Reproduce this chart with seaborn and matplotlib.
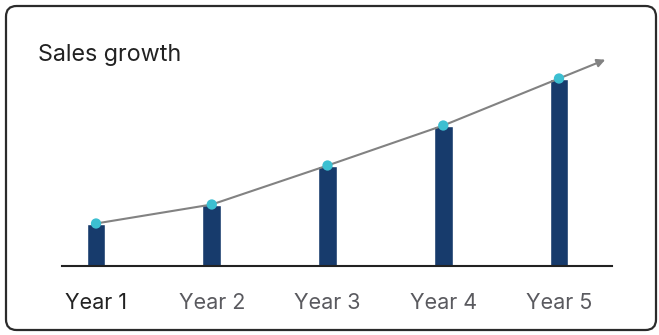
import matplotlib
matplotlib.use("Agg")
import matplotlib.pyplot as plt
import seaborn as sns
import numpy as np
import pandas as pd
from matplotlib.patches import FancyBboxPatch

years = ["Year 1", "Year 2", "Year 3", "Year 4", "Year 5"]
sales = [42, 61, 100, 140, 187]
title = "Sales growth"

BAR = "#173b6c"
DOT = "#3cbfd1"
LINE = "#828282"

sns.set_theme(style="white")
plt.rcParams['font.family'] = ['Inter', 'DejaVu Sans']

fig = plt.figure(figsize=(6.59, 3.35), dpi=100)
W, H = 659, 335

# rounded card frame
card = FancyBboxPatch((6 / W, 5 / H), 650 / W, 324 / H,
                      boxstyle="round,pad=0,rounding_size=0.016",
                      transform=fig.transFigure, facecolor="white",
                      edgecolor="#2b2b2b", linewidth=1.6, mutation_aspect=W / H,
                      zorder=-5)
fig.patches.append(card)

ax = fig.add_axes([62 / W, (H - 265.5) / H, 550 / W, (265.5 - 20) / H])
ax.set_facecolor("none")
ax.set_zorder(2)

df = pd.DataFrame({"year": years, "sales": sales})
sns.barplot(data=df, x="year", y="sales", color=BAR, width=0.162,
            saturation=1, ax=ax, zorder=2)

xs = np.arange(len(years))
ys = np.array(sales, dtype=float)
sns.lineplot(x=xs, y=ys, color=LINE, linewidth=1.5, ax=ax, zorder=3)
# arrow extension following the last segment
dx = 0.40
x_end = xs[-1] + dx
y_end = ys[-1] + (ys[-1] - ys[-2]) * dx
ax.annotate("", xy=(x_end, y_end), xytext=(xs[-1], ys[-1]),
            arrowprops=dict(arrowstyle="-|>", color=LINE, lw=1.5,
                            mutation_scale=12, shrinkA=0, shrinkB=0),
            zorder=3)
sns.scatterplot(x=xs, y=ys, color=DOT, s=55, edgecolor="none", ax=ax, zorder=4)

ax.set_xlim(-0.294, 4.458)
ax.set_ylim(0, 245.5)
ax.set_xlabel("")
ax.set_ylabel("")
ax.set_yticks([])
ax.set_xticks(xs)
ax.set_xticklabels(years, fontsize=15.5)
ax.tick_params(axis="x", length=0, pad=19.5)
for i, lbl in enumerate(ax.get_xticklabels()):
    lbl.set_color("#222222" if i == 0 else "#5a5a5f")
for s in ["top", "left", "right"]:
    ax.spines[s].set_visible(False)
ax.spines["bottom"].set_color("#222222")
ax.spines["bottom"].set_linewidth(1.5)

fig.text(38 / W, 1 - 55 / H, title, fontsize=16.8, color="#222222",
         ha="left", va="center")

fig.savefig("out.png", dpi=100)
